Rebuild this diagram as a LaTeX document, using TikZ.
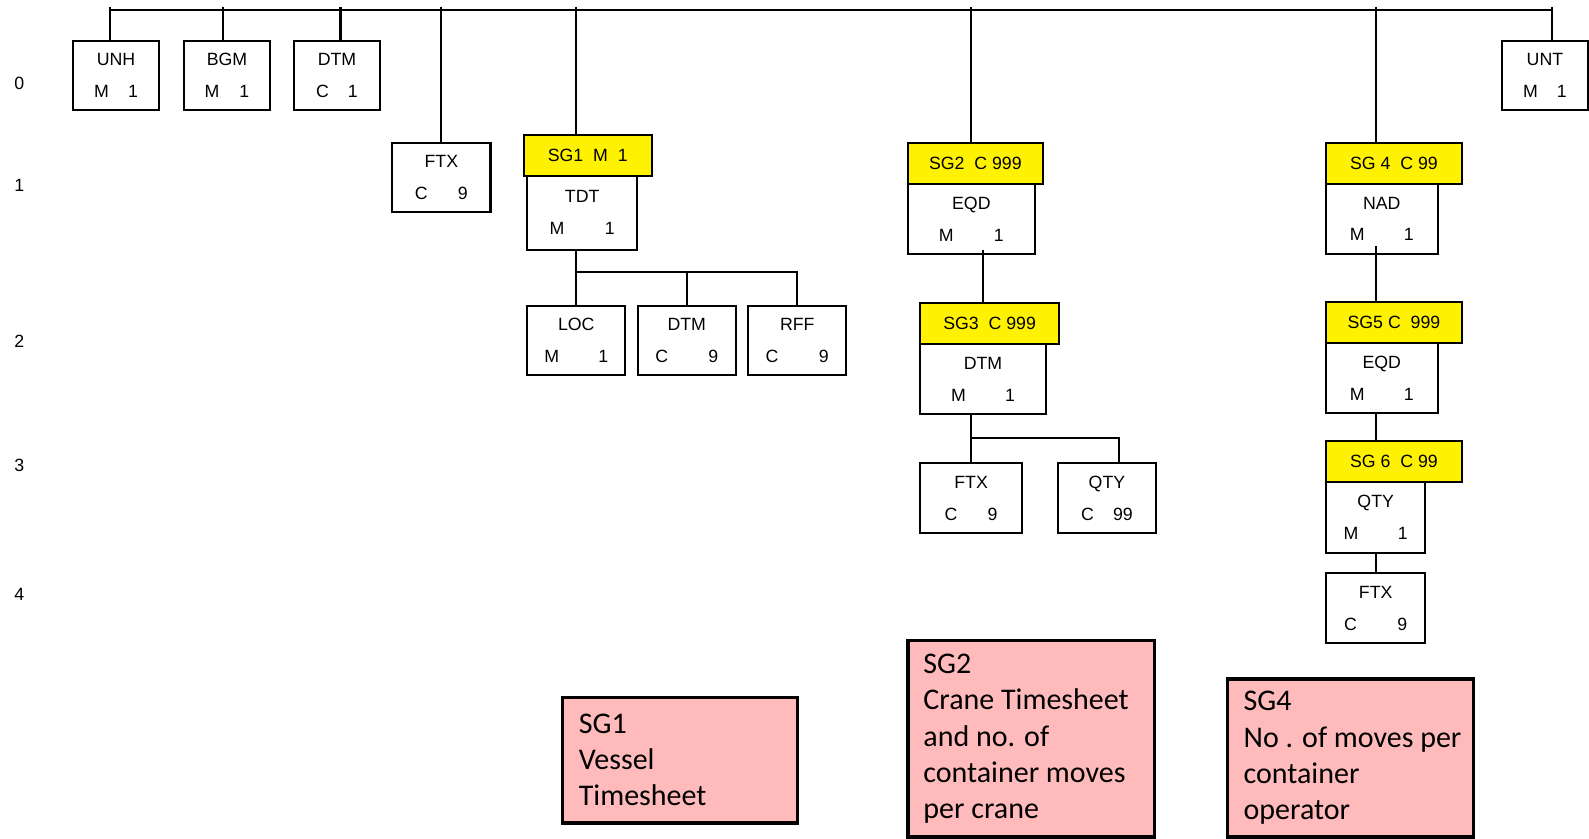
\documentclass[tikz,border=0pt]{standalone}
\usepackage{fontspec}
\setmainfont{Liberation Sans}
\newfontfamily\calib{Carlito}
\usetikzlibrary{positioning}

\definecolor{notepink}{RGB}{255,187,187}
\newcommand{\segfont}{\fontsize{17.5}{31.5}\selectfont}
\newcommand{\notefont}{\calib\fontsize{29.6}{35.8}\selectfont}

\tikzset{
  seg/.style={draw, line width=2pt, inner sep=0pt, outer sep=0pt, minimum height=69pt, align=center, font=\segfont},
  sghead/.style={draw, line width=2pt, fill=yellow, inner sep=0pt, outer sep=0pt, minimum height=40.5pt, font=\segfont},
  note/.style={draw, line width=3.4pt, fill=notepink, inner sep=0pt, outer sep=0pt},
  notetext/.style={anchor=west, inner sep=0pt, align=left, font=\notefont},
  lvl/.style={font=\segfont},
  link/.style={line width=2pt},
}

\begin{document}
\begin{tikzpicture}[x=1pt, y=-1pt]
\useasboundingbox (0,0) rectangle (1568,827);

% level numbers
\node[lvl] (lzero) at (19,82) {0};
\node[lvl] (lone) at (19,183) {1};
\node[lvl] (ltwo) at (19,337) {2};
\node[lvl] (lthree) at (19,459) {3};
\node[lvl] (lfour) at (19,587) {4};

% level 0
\node[seg, minimum width=85] (unh) at (114.5,74.5) {UNH\\M\hspace{18.8pt}1};
\node[seg, minimum width=84, right=25pt of unh] (bgm) {BGM\\M\hspace{19.8pt}1};
\node[seg, minimum width=85, right=24pt of bgm] (dtmzero) {DTM\\C\hspace{18.8pt}1};
\node[seg, minimum width=85] (unt) at (1524.5,74.5) {UNT\\M\hspace{18.8pt}1};

% level 1
\node[seg, minimum width=97, minimum height=68] (ftxone) at (435.5,175) {FTX\\C\hspace{29.8pt}9};

\node[sghead, minimum width=126, anchor=north west] (sgone) at (517,133) {SG1\ \ M\ \ 1};
\node[seg, minimum width=109, minimum height=73, anchor=north west] (tdt) at ([xshift=3pt]sgone.south west) {TDT\\M\hspace{39.8pt}1};

\node[sghead, minimum width=133, anchor=north west] (sgtwo) at (896,141) {SG2\ \ C 999};
\node[seg, minimum width=125, anchor=north west] (eqdtwo) at (sgtwo.south west) {EQD\\M\hspace{39.8pt}1};

\node[sghead, minimum width=134, anchor=north west] (sgfour) at (1308.5,141) {SG 4\ \ C 99};
\node[seg, minimum width=110, anchor=north west] (nad) at (sgfour.south west) {NAD\\M\hspace{38.8pt}1};

% level 2
\node[seg, minimum width=97] (loc) at (568.7,336) {LOC\\M\hspace{38.8pt}1};
\node[seg, minimum width=97, right=12pt of loc] (dtmtwo) {DTM\\C\hspace{39.8pt}9};
\node[seg, minimum width=97, right=12pt of dtmtwo] (rff) {RFF\\C\hspace{39.8pt}9};

\node[sghead, minimum width=137, anchor=north west] (sgthree) at (908,299) {SG3\ \ C 999};
\node[seg, minimum width=124, anchor=north west] (dtmthree) at (sgthree.south west) {DTM\\M\hspace{38.8pt}1};

\node[sghead, minimum width=134, anchor=north west] (sgfive) at (1308.5,298) {SG5 C\ \ 999};
\node[seg, minimum width=110, anchor=north west] (eqdfive) at (sgfive.south west) {EQD\\M\hspace{38.8pt}1};

% level 3
\node[seg, minimum width=100] (ftxthree) at (958.3,491.5) {FTX\\C\hspace{29.8pt}9};
\node[seg, minimum width=96, right=36pt of ftxthree] (qtythree) {QTY\\C\hspace{19pt}99};

\node[sghead, minimum width=134, anchor=north west] (sgsix) at (1308.5,435) {SG 6\ \ C 99};
\node[seg, minimum width=98, minimum height=70, anchor=north west] (qtysix) at (sgsix.south west) {QTY\\M\hspace{38.8pt}1};

% level 4
\node[seg, minimum width=98, below=20pt of qtysix] (ftxsix) {FTX\\C\hspace{39.8pt}9};

% notes
\node[note, minimum width=232, minimum height=124] (noteone) at (671,750) {};
\node[notetext] (noteonetext) at ([xshift=16pt]noteone.west) {SG1\\Vessel\\Timesheet};
\node[note, minimum width=243, minimum height=194] (notetwo) at (1017.5,729) {};
\node[notetext] (notetwotext) at ([xshift=15pt]notetwo.west) {SG2\\Crane Timesheet\\and no. of\\container moves\\per crane};
\node[note, minimum width=243, minimum height=156] (notefour) at (1332.5,748) {};
\node[notetext] (notefourtext) at ([xshift=16pt]notefour.west) {SG4\\No . of moves per\\container\\operator};

% edges
\coordinate (tick) at (0,6.6);
\coordinate (busl) at (109,10);
\coordinate (busr) at (1531,10);
\draw[link] (busl) -- (busr);
\foreach \x/\n in {109/unh, 220/bgm, 336/dtmzero, 1531/unt}
  \draw[link] (\x,0 |- tick) -- (\x,0 |- \n.north);
\draw[link] (ftxone.north |- tick) -- (ftxone.north);
\draw[link] (loc.north |- tick) -- (loc.north |- sgone.north);
\draw[link] (eqdtwo.north |- tick) -- (eqdtwo.north |- sgtwo.north);
\draw[link] (qtysix.north |- tick) -- (qtysix.north |- sgfour.north);

\coordinate (jone) at (569,268);
\draw[link] (loc.north |- tdt.south) -- (loc.north);
\draw[link] (loc.north |- jone) -| (rff.north);
\draw[link] (dtmtwo.north |- jone) -- (dtmtwo.north);

\coordinate (eqdtwostub) at ([yshift=4pt]eqdtwo.south);
\draw[link] (eqdtwostub -| dtmthree.north) -- (dtmthree.north |- sgthree.north);

\coordinate (jthree) at (958,432.5);
\draw[link] (ftxthree.north |- dtmthree.south) -- (ftxthree.north);
\draw[link] (ftxthree.north |- jthree) -| ([xshift=11.5pt]qtythree.north);

\coordinate (nadstub) at ([yshift=8pt]nad.south);
\draw[link] (nadstub -| qtysix.north) -- (qtysix.north |- sgfive.north);
\draw[link] (qtysix.north |- eqdfive.south) -- (qtysix.north |- sgsix.north);
\draw[link] (qtysix.south) -- (ftxsix.north);

\end{tikzpicture}
\end{document}
